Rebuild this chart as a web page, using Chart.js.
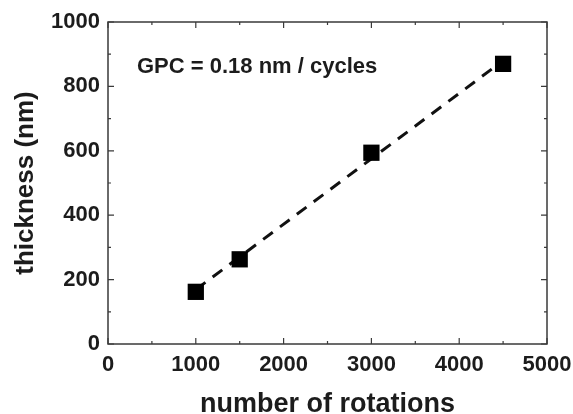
<!DOCTYPE html>
<html>
<head>
<meta charset="utf-8">
<script src="https://cdn.jsdelivr.net/npm/chart.js@4/dist/chart.umd.min.js"></script>
<style>
  html, body { margin: 0; padding: 0; background: #fff; }
  #wrap { width: 573px; height: 414px; }
</style>
</head>
<body>
<div id="wrap"><canvas id="c" width="573" height="414"></canvas></div>
<script>
// measured points
const rotations = [1000, 1500, 3000, 4500];
const thickness = [162, 263, 594, 870];

// dashed linear fit, end points
const fitX = [1000, 4500];
const fitY = [169, 880];

const xTicks = [0, 1000, 2000, 3000, 4000, 5000];
const yTicks = [0, 200, 400, 600, 800, 1000];

const note = 'GPC = 0.18 nm / cycles';
const noteAt = { x: 330, y: 860 };

const FONT = '"Liberation Sans", Arial, sans-serif';
const INK = '#1c1c1c';

// frame on four sides, inward major + minor ticks
const framePlugin = {
  id: 'frame',
  afterDraw: (chart) => {
    const ctx = chart.ctx;
    const a = chart.chartArea;
    const xs = chart.scales.x, ys = chart.scales.y;
    ctx.save();
    ctx.strokeStyle = '#3a3a3a';
    ctx.lineWidth = 1.5;
    ctx.strokeRect(a.left, a.top, a.right - a.left, a.bottom - a.top);
    ctx.lineWidth = 1.2;
    ctx.beginPath();
    for (let i = 0; i < xTicks.length; i++) {
      const px = xs.getPixelForValue(xTicks[i]);
      ctx.moveTo(px, a.bottom); ctx.lineTo(px, a.bottom - 6);
      ctx.moveTo(px, a.top); ctx.lineTo(px, a.top + 6);
      if (i < xTicks.length - 1) {
        const pm = xs.getPixelForValue((xTicks[i] + xTicks[i + 1]) / 2);
        ctx.moveTo(pm, a.bottom); ctx.lineTo(pm, a.bottom - 3);
        ctx.moveTo(pm, a.top); ctx.lineTo(pm, a.top + 3);
      }
    }
    for (let i = 0; i < yTicks.length; i++) {
      const py = ys.getPixelForValue(yTicks[i]);
      ctx.moveTo(a.left, py); ctx.lineTo(a.left + 6, py);
      ctx.moveTo(a.right, py); ctx.lineTo(a.right - 6, py);
      if (i < yTicks.length - 1) {
        const pm = ys.getPixelForValue((yTicks[i] + yTicks[i + 1]) / 2);
        ctx.moveTo(a.left, pm); ctx.lineTo(a.left + 3, pm);
        ctx.moveTo(a.right, pm); ctx.lineTo(a.right - 3, pm);
      }
    }
    ctx.stroke();

    ctx.fillStyle = INK;
    ctx.font = 'bold 22px ' + FONT;
    ctx.textBaseline = 'middle';
    ctx.fillText(note, xs.getPixelForValue(noteAt.x), ys.getPixelForValue(noteAt.y));
    ctx.restore();
  }
};

const tickFont = { family: FONT, size: 22, weight: 'bold' };

new Chart(document.getElementById('c').getContext('2d'), {
  type: 'scatter',
  data: {
    datasets: [{
      label: 'thickness',
      data: rotations.map((r, i) => ({ x: r, y: thickness[i] })),
      pointStyle: 'rect',
      pointRadius: 11.5,
      pointHoverRadius: 11.5,
      backgroundColor: '#000',
      borderColor: '#000',
      borderWidth: 0,
      showLine: false
    }, {
      label: 'fit',
      data: fitX.map((r, i) => ({ x: r, y: fitY[i] })),
      showLine: true,
      borderColor: '#111',
      borderWidth: 3,
      borderDash: [12, 9],
      pointRadius: 0,
      fill: false
    }]
  },
  plugins: [framePlugin],
  options: {
    responsive: false,
    animation: false,
    layout: { padding: { top: 22, right: 26, left: 0, bottom: 0 } },
    plugins: { legend: { display: false }, tooltip: { enabled: false } },
    scales: {
      x: {
        type: 'linear',
        min: 0, max: 5000,
        afterFit: (s) => { s.height = 70; s.paddingLeft = 0; s.paddingRight = 0; },
        afterBuildTicks: (s) => { s.ticks = xTicks.map(v => ({ value: v })); },
        grid: { display: false, drawTicks: false },
        border: { display: false },
        ticks: { padding: 8, color: INK, font: tickFont, callback: (v) => String(v) },
        title: {
          display: true,
          text: 'number of rotations',
          color: INK,
          padding: { top: 0, bottom: 0 },
          font: { family: FONT, size: 27, weight: 'bold', lineHeight: 0.7 }
        }
      },
      y: {
        type: 'linear',
        min: 0, max: 1000,
        afterFit: (s) => { s.width = 108; s.paddingTop = 0; s.paddingBottom = 0; },
        afterBuildTicks: (s) => { s.ticks = yTicks.map(v => ({ value: v })); },
        grid: { display: false, drawTicks: false },
        border: { display: false },
        ticks: { padding: 8, color: INK, font: tickFont, callback: (v) => String(v) },
        title: {
          display: true,
          text: 'thickness (nm)',
          color: INK,
          padding: { top: 10, bottom: 0 },
          font: { family: FONT, size: 26, weight: 'bold' }
        }
      }
    }
  }
});
</script>
</body>
</html>
